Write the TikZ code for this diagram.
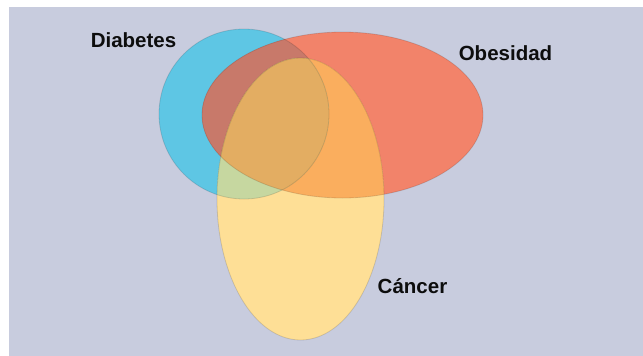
\documentclass[tikz,border=0pt]{standalone}
\usepackage{fontspec}
\setmainfont{Liberation Sans}
\definecolor{bgc}{HTML}{C8CCDE}
\definecolor{cblue}{HTML}{5EC6E4}
\definecolor{cred}{HTML}{F2836A}
\definecolor{cyel}{HTML}{FEDF96}
\definecolor{cbr}{HTML}{C8796A}
\definecolor{cry}{HTML}{FAAE5E}
\definecolor{cby}{HTML}{C6D7A0}
\definecolor{call}{HTML}{E3AD62}
\tikzset{
  lbl/.style={font=\fontsize{20.5}{22}\selectfont\bfseries, text=black!95, anchor=base, inner sep=0pt},
  edgeline/.style={draw=black, draw opacity=0.13, line width=0.8pt}
}
\begin{document}
\begin{tikzpicture}[x=1pt,y=-1pt]
\useasboundingbox (0,0) rectangle (643,356);
\fill[white] (0,0) rectangle (643,356);
\fill[bgc] (9,7) rectangle (643,356);
\def\blueE{(244,114) ellipse [x radius=85, y radius=85]}
\def\redE{(342.5,115) ellipse [x radius=140.5, y radius=83]}
\def\yelE{(300.5,199) ellipse [x radius=83.5, y radius=141]}
\fill[cblue] \blueE;
\fill[cred] \redE;
\fill[cyel] \yelE;
\begin{scope}
  \clip \blueE;
  \fill[cbr] \redE;
\end{scope}
\begin{scope}
  \clip \redE;
  \fill[cry] \yelE;
\end{scope}
\begin{scope}
  \clip \blueE;
  \fill[cby] \yelE;
\end{scope}
\begin{scope}
  \clip \blueE;
  \clip \redE;
  \fill[call] \yelE;
\end{scope}
\draw[edgeline] \blueE;
\draw[edgeline] \redE;
\draw[edgeline] \yelE;
\node[lbl] (diab) at (133.5,47) {Diabetes};
\node[lbl] (obes) at (505.5,60) {Obesidad};
\node[lbl] (canc) at (412.5,293) {Cáncer};
\end{tikzpicture}
\end{document}
